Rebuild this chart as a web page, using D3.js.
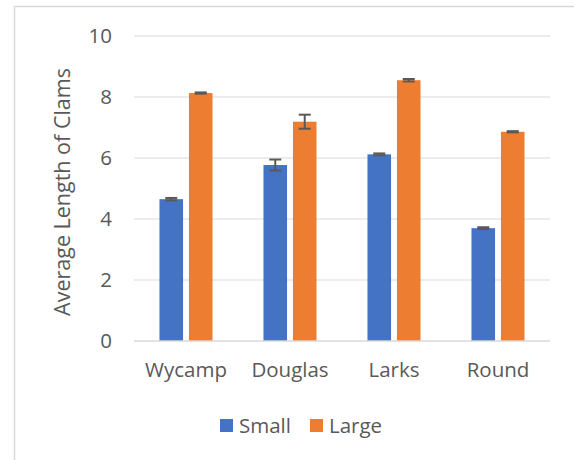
<!DOCTYPE html>
<html><head><meta charset="utf-8">
<script src="https://cdn.jsdelivr.net/npm/d3@7"></script>
<style>body{margin:0;background:#fff}svg{display:block}text{font-family:"Open Sans",sans-serif;fill:#595959}</style>
</head><body><svg id="c" width="574" height="460"></svg>
<script>
const categories = ["Wycamp", "Douglas", "Larks", "Round"];
const seriesNames = ["Small", "Large"];
const smallValues = [4.65, 5.77, 6.12, 3.70];
const largeValues = [8.13, 7.19, 8.55, 6.86];
const smallErrors = [0.04, 0.18, 0.03, 0.03];
const largeErrors = [0.02, 0.23, 0.04, 0.02];
const yTicks = [0, 2, 4, 6, 8, 10];
const colors = ["#4472C4", "#ED7D31"];
const FONT = "Open Sans";
const FS = "20.5px";

const svg = d3.select("#c");
// chart border
svg.append("rect").attr("x", 14.5).attr("y", 6.5).attr("width", 580).attr("height", 480)
  .attr("fill", "none").attr("stroke", "#d9d9d9").attr("stroke-width", 1.5);

const x0 = 134, x1 = 550, yTop = 36, yBot = 341;
const y = d3.scaleLinear().domain([0, 10]).range([yBot, yTop]);
const x = d3.scaleBand().domain(categories).range([x0, x1]).paddingInner(0.49).paddingOuter(0.245);
const xs = d3.scaleBand().domain(seriesNames).range([0, x.bandwidth()]).paddingInner(0.2);

// grid
svg.append("g").selectAll("line").data(yTicks.filter(d => d > 0)).join("line")
  .attr("x1", x0).attr("x2", x1).attr("y1", d => y(d)).attr("y2", d => y(d))
  .attr("stroke", "#d9d9d9").attr("stroke-width", 1.2);

// y axis labels
const ya = svg.append("g").attr("transform", `translate(${x0},0)`)
  .call(d3.axisLeft(y).tickValues(yTicks).tickSize(0).tickPadding(22));
ya.select(".domain").remove();
ya.selectAll("text").style("font-size", FS).attr("fill", "#595959").style("font-family", FONT);

const data = categories.map((c, i) => ({c, vals: [
  {s: "Small", v: smallValues[i], e: smallErrors[i]},
  {s: "Large", v: largeValues[i], e: largeErrors[i]}]}));

const g = svg.append("g").selectAll("g").data(data).join("g")
  .attr("transform", d => `translate(${x(d.c)},0)`);
g.selectAll("rect").data(d => d.vals).join("rect")
  .attr("x", d => xs(d.s)).attr("width", xs.bandwidth())
  .attr("y", d => y(d.v)).attr("height", d => yBot - y(d.v))
  .attr("fill", (d, i) => colors[i]);
// error bars
const eb = g.selectAll("g.eb").data(d => d.vals).join("g").attr("class", "eb");
eb.append("line").attr("x1", d => xs(d.s) + xs.bandwidth()/2).attr("x2", d => xs(d.s) + xs.bandwidth()/2)
  .attr("y1", d => y(d.v + d.e)).attr("y2", d => y(d.v - d.e)).attr("stroke", "#595959").attr("stroke-width", 2);
[1, -1].forEach(sg => {
  eb.append("line").attr("x1", d => xs(d.s) + xs.bandwidth()/2 - 6).attr("x2", d => xs(d.s) + xs.bandwidth()/2 + 6)
    .attr("y1", d => y(d.v + sg*d.e)).attr("y2", d => y(d.v + sg*d.e)).attr("stroke", "#595959").attr("stroke-width", 2);
});

// x axis
svg.append("line").attr("x1", x0).attr("x2", x1).attr("y1", yBot).attr("y2", yBot)
  .attr("stroke", "#d9d9d9").attr("stroke-width", 1.5);
const xa = svg.append("g").attr("transform", `translate(0,${yBot})`)
  .call(d3.axisBottom(x).tickSize(0).tickPadding(21));
xa.select(".domain").remove();
xa.selectAll("text").style("font-size", FS).attr("fill", "#595959").style("font-family", FONT);

// y title
svg.append("text").attr("transform", "translate(70,192) rotate(-90)").attr("text-anchor", "middle")
  .style("font-size", "21.5px").style("font-family", FONT).text("Average Length of Clams");

// legend
const leg = svg.append("g");
const legX = [220, 310];
seriesNames.forEach((s, i) => {
  leg.append("rect").attr("x", legX[i]).attr("y", 419).attr("width", 13).attr("height", 13).attr("fill", colors[i]);
  leg.append("text").attr("x", legX[i] + 19).attr("y", 433).style("font-size", FS).style("font-family", FONT).text(s);
});
</script></body></html>
